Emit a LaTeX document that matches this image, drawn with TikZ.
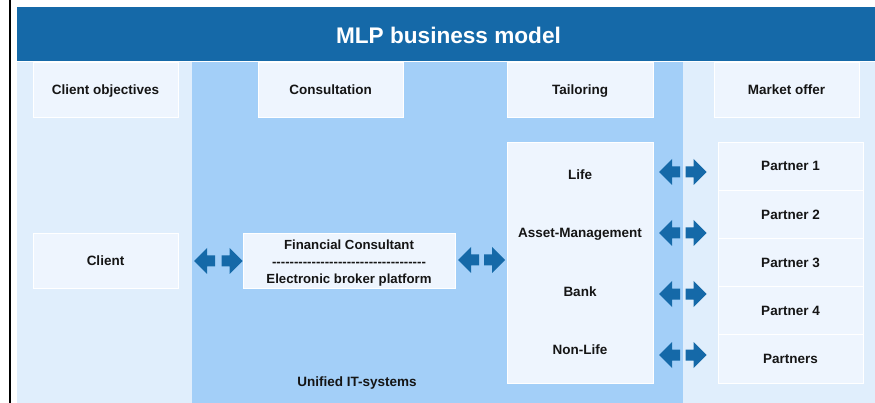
\documentclass[tikz,border=0pt]{standalone}
\usepackage{fontspec}
\setmainfont{Liberation Sans}
\definecolor{mlpblue}{HTML}{1569A8}
\definecolor{lightbg}{HTML}{E0EEFC}
\definecolor{midbg}{HTML}{A3CFF8}
\definecolor{boxfill}{HTML}{EEF5FE}
\definecolor{txt}{HTML}{151515}
\newcommand\mydashes{-{}-{}-{}-{}-{}-{}-{}-{}-{}-{}-{}-{}-{}-{}-{}-{}-{}-{}-{}-{}-{}-{}-{}-{}-{}-{}-{}-{}-{}-{}-{}-{}-{}-{}-{}}
\tikzset{
  panel/.style={draw=white, line width=0.8pt, fill=boxfill, inner sep=0pt},
  lbl/.style={font=\bfseries\fontsize{13.5}{16}\selectfont, text=txt, align=center},
  one/.style={text height=9.7pt, text depth=0pt},
  rarr/.pic={\fill[mlpblue] (-10.5,-5.5) -- (-2.5,-5.5) -- (-2.5,-13) -- (10.5,0) -- (-2.5,13) -- (-2.5,5.5) -- (-10.5,5.5) -- cycle;},
  larr/.pic={\fill[mlpblue] (10.5,-5.5) -- (2.5,-5.5) -- (2.5,-13) -- (-10.5,0) -- (2.5,13) -- (2.5,5.5) -- (10.5,5.5) -- cycle;}
}
\begin{document}
\begin{tikzpicture}[x=1pt,y=-1pt]
\useasboundingbox (0,0) rectangle (875,403);
\fill[white] (0,0) rectangle (875,403);
% backgrounds
\fill[lightbg] (17,62) rectangle (875,403);
\fill[midbg] (192,62) rectangle (683,403);
\fill[mlpblue] (17,7) rectangle (875,61);
\draw[white, line width=0.8pt] (17,61.5) -- (875,61.5);
\draw[black, line width=2pt] (10,0) -- (10,403);
\node[font=\bfseries\fontsize{22.6}{26}\selectfont, text=white, text height=16.2pt, text depth=0pt] (title) at (448.5,35) {MLP business model};
% headers
\node[panel, minimum width=145pt, minimum height=55pt, lbl, one] (hobj) at (105.5,89.5) {Client objectives};
\node[panel, minimum width=145pt, minimum height=55pt, lbl, one] (hcons) at (330.5,89.5) {Consultation};
\node[panel, minimum width=146pt, minimum height=55pt, lbl, one] (htail) at (580,89.5) {Tailoring};
\node[panel, minimum width=145pt, minimum height=55pt, lbl, one] (hmkt) at (786.5,89.5) {Market offer};
% client and consultant
\node[panel, minimum width=145pt, minimum height=55pt, lbl, one] (client) at (105.5,261) {Client};
\node[panel, minimum width=212pt, minimum height=55pt] (fc) at (349,260.5) {};
\node[lbl, font=\bfseries\fontsize{13.2}{17}\selectfont] (fclbl) at (349,263) {Financial Consultant\\\mydashes\\Electronic broker platform};
% tailoring box
\node[panel, minimum width=146pt, minimum height=241pt] (tail) at (580,262.5) {};
\node[lbl, one] (life) at (580,175) {Life};
\node[lbl, one] (am) at (580,233) {Asset-Management};
\node[lbl, one] (bank) at (580,292) {Bank};
\node[lbl, one] (nonlife) at (580,350) {Non-Life};
% partners
\node[panel, minimum width=145pt, minimum height=48.2pt, lbl, one] (p1) at (790.5,166.1) {Partner 1};
\node[panel, minimum width=145pt, minimum height=48.2pt, lbl, one] (p2) at (790.5,214.3) {Partner 2};
\node[panel, minimum width=145pt, minimum height=48.2pt, lbl, one] (p3) at (790.5,262.5) {Partner 3};
\node[panel, minimum width=145pt, minimum height=48.2pt, lbl, one] (p4) at (790.5,310.7) {Partner 4};
\node[panel, minimum width=145pt, minimum height=48.2pt, lbl, one] (p5) at (790.5,358.9) {Partners};
\node[lbl, one] (uit) at (357,381.5) {Unified IT-systems};
% arrows
\pic (a1l) at (204.5,261) {larr};
\pic (a1r) at (232,261) {rarr};
\pic (a2l) at (468.5,260) {larr};
\pic (a2r) at (494.5,260) {rarr};
\foreach \yy/\nm in {172/b1,233/b2,294/b3,355/b4}{
  \pic (\nm l) at (669.5,\yy) {larr};
  \pic (\nm r) at (696,\yy) {rarr};
}
\end{tikzpicture}
\end{document}
